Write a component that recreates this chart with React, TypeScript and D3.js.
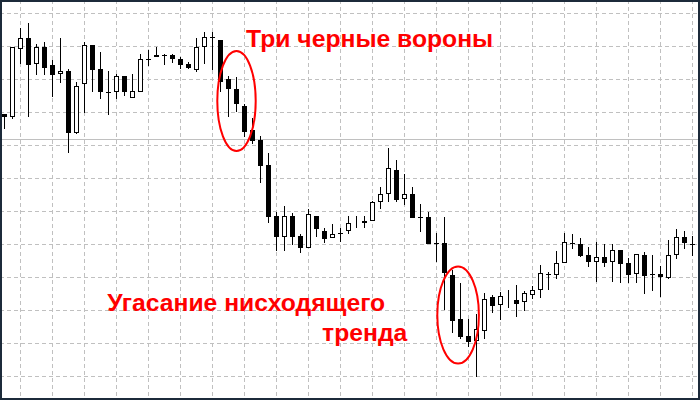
import React from "react";
import * as d3 from "d3";

// OHLC prices, one entry per bar (87 bars)
const open = [
  1.3262,1.3259,1.3327,1.3338,1.3312,1.3329,1.3311,1.3302,1.3305,1.3243,
  1.3292,1.3331,1.3307,1.3284,1.3284,1.3300,1.3278,1.3284,1.3317,1.3319,
  1.3321,1.3321,1.3317,1.3312,1.3306,1.3329,1.3339,1.3336,1.3297,1.3287,
  1.3270,1.3246,1.3236,1.3211,1.3160,1.3139,1.3160,1.3140,1.3128,1.3160,
  1.3145,1.3138,1.3143,1.3145,1.3153,1.3153,1.3155,1.3174,1.3182,1.3206,
  1.3177,1.3182,1.3159,1.3159,1.3133,1.3133,1.3101,1.3057,1.3040,1.3035,
  1.3045,1.3079,1.3071,1.3078,1.3076,1.3074,1.3081,1.3086,1.3102,1.3101,
  1.3113,1.3133,1.3132,1.3121,1.3114,1.3119,1.3114,1.3126,1.3113,1.3102,
  1.3121,1.3102,1.3102,1.3098,1.3121,1.3139,1.3132,
];
const close = [
  1.3259,1.3329,1.3338,1.3311,1.3329,1.3308,1.3301,1.3305,1.3243,1.3290,
  1.3331,1.3306,1.3284,1.3284,1.3300,1.3284,1.3285,1.3317,1.3316,1.3321,
  1.3321,1.3317,1.3311,1.3308,1.3329,1.3339,1.3338,1.3294,1.3287,1.3272,
  1.3244,1.3235,1.3210,1.3159,1.3139,1.3160,1.3139,1.3128,1.3162,1.3147,
  1.3137,1.3142,1.3142,1.3153,1.3154,1.3155,1.3174,1.3182,1.3208,1.3176,
  1.3182,1.3158,1.3158,1.3132,1.3132,1.3103,1.3055,1.3039,1.3034,1.3047,
  1.3077,1.3070,1.3080,1.3079,1.3072,1.3083,1.3086,1.3103,1.3102,1.3113,
  1.3134,1.3132,1.3120,1.3114,1.3119,1.3113,1.3126,1.3112,1.3101,1.3122,
  1.3100,1.3101,1.3099,1.3121,1.3139,1.3133,1.3132,
];
const high = [
  1.3262,1.3329,1.3348,1.3353,1.3332,1.3334,1.3316,1.3338,1.3307,1.3294,
  1.3334,1.3331,1.3324,1.3305,1.3302,1.3300,1.3302,1.3322,1.3326,1.3329,
  1.3322,1.3322,1.3319,1.3314,1.3338,1.3344,1.3344,1.3336,1.3300,1.3299,
  1.3272,1.3258,1.3240,1.3223,1.3164,1.3170,1.3163,1.3142,1.3167,1.3160,
  1.3148,1.3152,1.3148,1.3160,1.3160,1.3160,1.3175,1.3189,1.3228,1.3216,
  1.3202,1.3189,1.3172,1.3164,1.3143,1.3159,1.3106,1.3093,1.3057,1.3062,
  1.3083,1.3081,1.3084,1.3086,1.3091,1.3085,1.3090,1.3111,1.3104,1.3125,
  1.3143,1.3142,1.3138,1.3129,1.3134,1.3132,1.3132,1.3126,1.3118,1.3122,
  1.3124,1.3121,1.3110,1.3136,1.3147,1.3145,1.3140,
];
const low = [
  1.3247,1.3257,1.3312,1.3259,1.3301,1.3301,1.3279,1.3293,1.3223,1.3242,
  1.3263,1.3284,1.3277,1.3261,1.3277,1.3280,1.3278,1.3284,1.3310,1.3319,
  1.3311,1.3313,1.3307,1.3307,1.3304,1.3312,1.3306,1.3284,1.3259,1.3264,
  1.3239,1.3232,1.3193,1.3153,1.3125,1.3125,1.3131,1.3123,1.3128,1.3139,
  1.3133,1.3138,1.3134,1.3142,1.3148,1.3148,1.3155,1.3167,1.3174,1.3174,
  1.3171,1.3158,1.3144,1.3132,1.3114,1.3066,1.3043,1.3037,1.3029,1.2999,
  1.3037,1.3063,1.3056,1.3068,1.3059,1.3065,1.3077,1.3078,1.3086,1.3097,
  1.3113,1.3127,1.3119,1.3109,1.3094,1.3109,1.3094,1.3093,1.3093,1.3093,
  1.3082,1.3085,1.3079,1.3097,1.3117,1.3127,1.3120,
];

// horizontal grid price levels and the current price line
const gridLevels = [1.3, 1.3033, 1.3066, 1.3099, 1.3132, 1.3165, 1.3198, 1.3231, 1.3264, 1.3297, 1.333, 1.3363];
const priceLine = 1.3237;
// vertical grid every 4 bars
const gridBars = d3.range(2, 87, 4);

// annotations
const annotations = [
  { text: "Три черные вороны", bar: 30.2, price: 1.3329 },
  { text: "Угасание нисходящего", bar: 12.85, price: 1.3065 },
  { text: "тренда", bar: 39.7, price: 1.3035 },
];
const highlights = [
  { bar: 29, price: 1.3275, bars: 2.4, span: 0.0100 },
  { bar: 56.7, price: 1.3061, bars: 2.6, span: 0.0097 },
];

const W = 700;
const H = 400;

export default function App() {
  const x = d3.scaleLinear().domain([0, 86]).range([4.5, 692.5]);
  const y = d3.scaleLinear().domain([1.3, 1.3363]).range([376, 13]);
  const ry = (p: number) => Math.round(y(p));
  const barW = x(1) - x(0);

  return (
    <svg
      width={W}
      height={H}
      style={{ position: "absolute", left: 0, top: 0, display: "block", background: "#fff" }}
    >
      <rect x={0} y={0} width={W} height={H} fill="#ffffff" />
      {gridLevels.map((p, i) => (
        <line key={"h" + i} x1={0} x2={W} y1={ry(p) + 0.5} y2={ry(p) + 0.5}
          stroke="#c0c0c0" strokeWidth={1} strokeDasharray="4,3" />
      ))}
      {gridBars.map((b) => (
        <line key={"v" + b} x1={x(b)} x2={x(b)} y1={0} y2={H}
          stroke="#c0c0c0" strokeWidth={1} strokeDasharray="4,3" />
      ))}
      <line x1={0} x2={W} y1={ry(priceLine) + 0.5} y2={ry(priceLine) + 0.5} stroke="#c0c0c0" strokeWidth={1} />

      {open.map((o, i) => {
        const c = close[i];
        const cx = x(i);
        const top = ry(Math.max(o, c));
        const bot = ry(Math.min(o, c));
        let body;
        if (bot - top < 1) {
          body = <rect x={cx - 2.5} y={top} width={5} height={1} fill="#000" />;
        } else if (c > o) {
          body = (
            <rect x={cx - 2} y={top + 0.5} width={4} height={Math.max(bot - top - 1, 0)}
              fill="#fff" stroke="#000" strokeWidth={1} />
          );
        } else {
          body = <rect x={cx - 2.5} y={top} width={5} height={bot - top} fill="#000" />;
        }
        return (
          <g key={i}>
            <line x1={cx} x2={cx} y1={ry(high[i])} y2={ry(low[i])} stroke="#000" strokeWidth={1} />
            {body}
          </g>
        );
      })}

      {highlights.map((h, i) => (
        <ellipse key={"e" + i} cx={x(h.bar)} cy={y(h.price)}
          rx={(h.bars * barW)} ry={Math.abs(y(h.price + h.span / 2) - y(h.price))}
          fill="none" stroke="#ff0000" strokeWidth={2} />
      ))}

      {annotations.map((a, i) => (
        <text key={"t" + i} x={x(a.bar)} y={y(a.price)} fill="#ff0000"
          fontFamily="'Liberation Sans', Arial, sans-serif" fontWeight="bold" fontSize={24.7}>
          {a.text}
        </text>
      ))}

      <rect x={1} y={1} width={W - 2} height={H - 2} fill="none" stroke="#1c2a3a" strokeWidth={2} />
    </svg>
  );
}
